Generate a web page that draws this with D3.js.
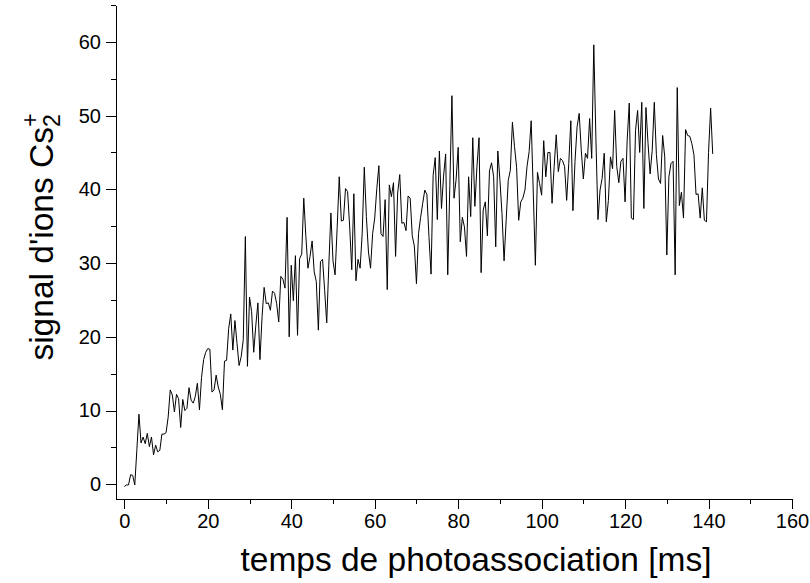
<!DOCTYPE html>
<html lang="fr">
<head>
<meta charset="UTF-8">
<title>signal d'ions Cs2+</title>
<script src="https://cdn.jsdelivr.net/npm/d3@7/dist/d3.min.js"></script>
<style>
    body {
        margin: 0;
        background-color: white;
    }
    svg {
        display: block;
        font-family: "Liberation Sans", Arial, sans-serif;
    }
    .axis path,
    .axis line {
        fill: none;
        stroke: black;
        shape-rendering: crispEdges;
    }
    .axis text {
        font-size: 20px;
        fill: black;
    }
    .title {
        font-size: 33.5px;
        fill: black;
    }
    .signal {
        fill: none;
        stroke: black;
        stroke-width: 1;
    }
</style>
</head>
<body>
<svg width="810" height="583"></svg>
<script>
    // échantillonnage : un point toutes les 0.5 ms à partir de 0
    var tStart = 0;
    var tStep = 0.5;

    // signal d'ions Cs2+
    var signal = [
        -0.3, -0.1, -0.1, 1.3, 1.2, -0.1, 4.7, 9.5,
        5.6, 6.4, 5.5, 6.9, 5.1, 6.4, 4.0, 5.3, 4.4, 4.6,
        6.8, 6.8, 7.0, 9.1, 12.8, 12.1, 9.8, 12.2, 11.6, 7.7,
        11.5, 10.0, 10.3, 13.1, 11.4, 11.0, 11.9, 13.7, 10.1, 14.5,
        16.9, 17.9, 18.4, 18.3, 12.5, 12.8, 14.8, 13.2, 12.2, 10.1,
        16.7, 16.8, 21.1, 23.1, 18.2, 22.2, 19.1, 16.1, 17.3, 19.6,
        33.6, 16.0, 25.4, 23.4, 17.9, 21.5, 24.6, 16.9, 22.7, 26.7,
        24.5, 24.6, 23.6, 26.2, 25.9, 24.5, 22.0, 28.2, 27.8, 26.6,
        36.2, 20.0, 29.7, 24.9, 31.0, 20.2, 30.6, 31.2, 38.8, 33.6,
        29.3, 30.9, 33.0, 28.8, 27.5, 20.9, 30.2, 30.5, 26.3, 21.9,
        29.7, 36.8, 30.3, 28.4, 34.8, 41.7, 35.7, 35.8, 40.1, 39.7,
        34.9, 29.1, 39.4, 27.6, 30.5, 29.3, 34.0, 43.0, 36.3, 31.5,
        29.3, 34.0, 36.1, 40.1, 43.2, 34.0, 33.6, 38.6, 26.4, 40.6,
        39.0, 40.9, 30.9, 39.5, 42.0, 35.4, 35.5, 34.4, 39.1, 38.8,
        33.7, 32.3, 27.2, 34.0, 36.2, 38.1, 39.9, 39.3, 33.6, 28.5,
        41.9, 44.3, 35.9, 45.2, 37.4, 41.8, 44.8, 28.4, 40.5, 52.7,
        38.8, 41.3, 45.7, 32.9, 36.2, 34.9, 30.9, 41.7, 36.3, 47.0,
        37.7, 43.1, 47.0, 28.7, 37.2, 38.3, 33.7, 42.5, 43.6, 41.7,
        32.2, 45.2, 41.3, 36.7, 30.3, 35.8, 41.2, 42.6, 49.1, 45.8,
        43.0, 35.8, 38.3, 38.8, 39.9, 43.1, 45.1, 49.3, 39.5, 29.7,
        42.3, 40.8, 39.2, 46.6, 41.7, 45.0, 45.0, 38.1, 43.1, 47.4,
        42.4, 44.2, 43.9, 43.1, 38.5, 43.5, 49.3, 37.1, 43.8, 48.5,
        50.3, 45.3, 41.4, 44.9, 44.2, 49.6, 44.2, 59.6, 47.0, 35.9,
        39.9, 41.5, 44.9, 35.6, 38.5, 44.4, 42.8, 50.7, 43.1, 40.9,
        43.8, 44.2, 38.3, 46.7, 51.7, 36.1, 35.9, 48.0, 50.7, 45.0,
        51.8, 37.4, 51.1, 46.2, 42.1, 45.3, 51.8, 44.7, 41.4, 40.8,
        47.3, 44.4, 31.1, 41.7, 43.5, 43.8, 28.4, 53.8, 37.8, 39.6,
        36.1, 48.1, 47.3, 47.2, 46.2, 44.7, 39.3, 39.4, 36.1, 40.2,
        35.8, 35.6, 45.0, 51.0, 44.8
    ];

    var xMajor = [0, 20, 40, 60, 80, 100, 120, 140, 160];
    var xMinor = [10, 30, 50, 70, 90, 110, 130, 150];
    var yMajor = [0, 10, 20, 30, 40, 50, 60];
    var yMinor = [5, 15, 25, 35, 45, 55, 65];

    var svg = d3.select("svg");

    var getX = d3.scaleLinear()
            .domain([-2, 160])
            .range([116, 792]);
    var getY = d3.scaleLinear()
            .domain([-2, 65])
            .range([499, 5]);

    // axes : graduations mineures puis majeures
    svg.append("g")
            .attr("class", "axis")
            .attr("transform", "translate(0,499)")
            .call(d3.axisBottom(getX).tickValues(xMinor).tickSize(5).tickSizeOuter(0).tickFormat(""));
    svg.append("g")
            .attr("class", "axis")
            .attr("transform", "translate(0,499)")
            .call(d3.axisBottom(getX).tickValues(xMajor).tickSize(10).tickSizeOuter(0).tickPadding(5));
    svg.append("g")
            .attr("class", "axis")
            .attr("transform", "translate(116,0)")
            .call(d3.axisLeft(getY).tickValues(yMinor).tickSize(5).tickSizeOuter(0).tickFormat(""));
    svg.append("g")
            .attr("class", "axis")
            .attr("transform", "translate(116,0)")
            .call(d3.axisLeft(getY).tickValues(yMajor).tickSize(10).tickSizeOuter(0).tickPadding(5));

    var line = d3.line()
            .x(function (d, i) {
                return getX(tStart + i * tStep);
            })
            .y(function (d) {
                return getY(d);
            });

    svg.append("path")
            .datum(signal)
            .attr("class", "signal")
            .attr("d", line);

    // titres
    svg.append("text")
            .attr("class", "title")
            .attr("x", 476)
            .attr("y", 571)
            .attr("text-anchor", "middle")
            .text("temps de photoassociation [ms]");

    var yTitle = svg.append("text")
            .attr("class", "title")
            .attr("transform", "translate(53,237) rotate(-90)")
            .attr("text-anchor", "middle");
    yTitle.append("tspan").text("signal d'ions Cs");
    yTitle.append("tspan")
            .attr("dy", "0.3em")
            .style("font-size", "23px")
            .text("2");
    yTitle.append("tspan")
            .attr("dx", "-0.55em")
            .attr("dy", "-0.95em")
            .style("font-size", "23px")
            .text("+");
</script>
</body>
</html>
